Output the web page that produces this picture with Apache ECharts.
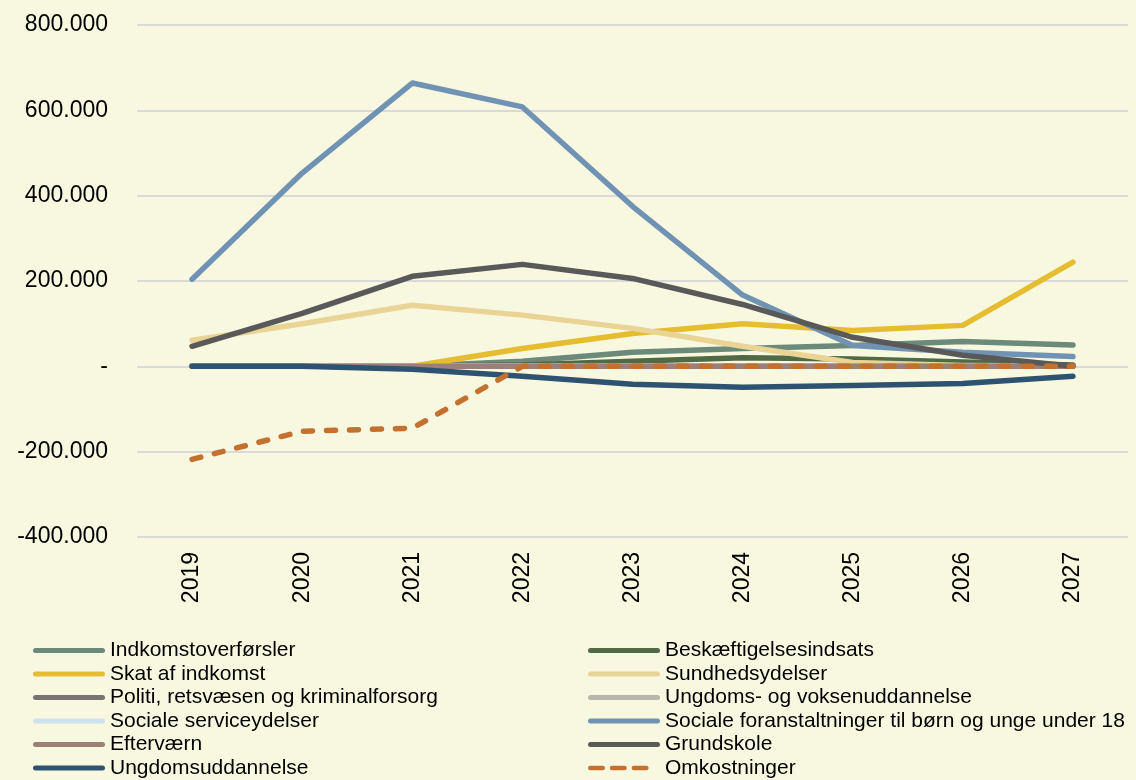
<!DOCTYPE html>
<html><head><meta charset="utf-8">
<script src="https://cdn.jsdelivr.net/npm/echarts@6/dist/echarts.min.js"></script>
<style>html,body{margin:0;padding:0;background:#f8f8e1;}#c{width:1136px;height:780px;}</style>
</head><body><div id="c"></div>
<script>
var years = ['2019','2020','2021','2022','2023','2024','2025','2026','2027'];
var yTicks = [-400000,-200000,0,200000,400000,600000,800000];
var names = ['Indkomstoverførsler','Beskæftigelsesindsats','Skat af indkomst','Sundhedsydelser','Politi, retsvæsen og kriminalforsorg','Ungdoms- og voksenuddannelse','Sociale serviceydelser','Sociale foranstaltninger til børn og unge under 18','Efterværn','Grundskole','Ungdomsuddannelse','Omkostninger'];
var indkomstoverforsler = [0,0,0,12000,33000,42000,49000,58000,50000];
var beskaeftigelse = [0,0,0,3000,12000,20000,17000,10000,3000];
var skat = [0,0,0,42000,77000,100000,84000,96000,244000];
var sundhed = [61000,100000,143000,120000,89000,47000,9000,2000,0];
var politi = [0,0,0,0,0,0,0,0,0];
var ungdomsVoksen = [0,0,0,0,0,0,0,0,0];
var socialService = [0,0,0,0,0,0,0,0,0];
var socialForanst = [204000,453000,664000,608000,375000,167000,49000,33000,23000];
var eftervaern = [0,0,0,0,0,0,0,0,0];
var grundskole = [47000,124000,211000,239000,206000,145000,68000,26000,0];
var ungdomsudd = [0,0,-7000,-23000,-42000,-49000,-45000,-40000,-23000];
var omkostninger = [-218000,-152000,-145000,0,0,0,0,0,0];
var colors = ['#6b8a79','#4f6a44','#e6bd30','#e9d496','#7a7373','#b9b6ae','#cfe0ee','#7193b3','#9d7f7a','#595959','#2e5371','#c4712f'];
var dataArr = [indkomstoverforsler,beskaeftigelse,skat,sundhed,politi,ungdomsVoksen,socialService,socialForanst,eftervaern,grundskole,ungdomsudd,omkostninger];

var series = names.map(function(n,i){
  return {name:n,type:'line',data:dataArr[i],symbol:'none',smooth:false,
    lineStyle:{color:colors[i],width:5.5,cap:'round',join:'round',type: i===11?[9,14]:'solid'},
    itemStyle:{color:colors[i]},z: 2+i};
});
function fmt(v){ if(v===0) return '-'; var s=Math.abs(v).toString().replace(/\B(?=(\d{3})+(?!\d))/g,'.'); return (v<0?'-':'')+s; }
var solidIcon = 'path://M2.5,0 L69.5,0 A2.5,2.5 0 0 1 69.5,5 L2.5,5 A2.5,2.5 0 0 1 2.5,0 Z';
var dashIcon = 'path://M2.5,0 L15.5,0 A2.5,2.5 0 0 1 15.5,5 L2.5,5 A2.5,2.5 0 0 1 2.5,0 Z M25.5,0 L38.5,0 A2.5,2.5 0 0 1 38.5,5 L25.5,5 A2.5,2.5 0 0 1 25.5,0 Z M48.5,0 L61.5,0 A2.5,2.5 0 0 1 61.5,5 L48.5,5 A2.5,2.5 0 0 1 48.5,0 Z M76,2.5 L76,2.5';
function legItems(idx){
  return idx.map(function(i){ return {name:names[i], icon: i===11?dashIcon:solidIcon}; });
}
var legendCommon = {orient:'vertical',itemWidth:72,itemHeight:5,itemGap:2.5,height:200,padding:0,
  textStyle:{fontFamily:'Arial, Liberation Sans',fontSize:21,lineHeight:21,color:'#000'}};
var chart = echarts.init(document.getElementById('c'));
chart.setOption({
  backgroundColor:'#f8f8e1',
  animation:false,
  grid:{left:137,right:8,top:25,bottom:243,containLabel:false},
  xAxis:{type:'category',data:years,boundaryGap:true,
    axisLine:{show:false},axisTick:{show:false},
    axisLabel:{rotate:90,margin:15,fontFamily:'Arial, Liberation Sans',fontSize:23,color:'#000'}},
  yAxis:{type:'value',min:-400000,max:800000,interval:200000,
    axisLine:{show:false},axisTick:{show:false},
    splitLine:{lineStyle:{color:'#d9d9d9',width:2}},
    axisLabel:{formatter:fmt,margin:29,fontFamily:'Arial, Liberation Sans',fontSize:23,color:'#000'}},
  legend:[
    Object.assign({left:33,top:640,data:legItems([0,2,4,6,8,10])},legendCommon),
    Object.assign({left:588,top:640,data:legItems([1,3,5,7,9,11])},legendCommon)
  ],
  series:series
});
</script></body></html>
